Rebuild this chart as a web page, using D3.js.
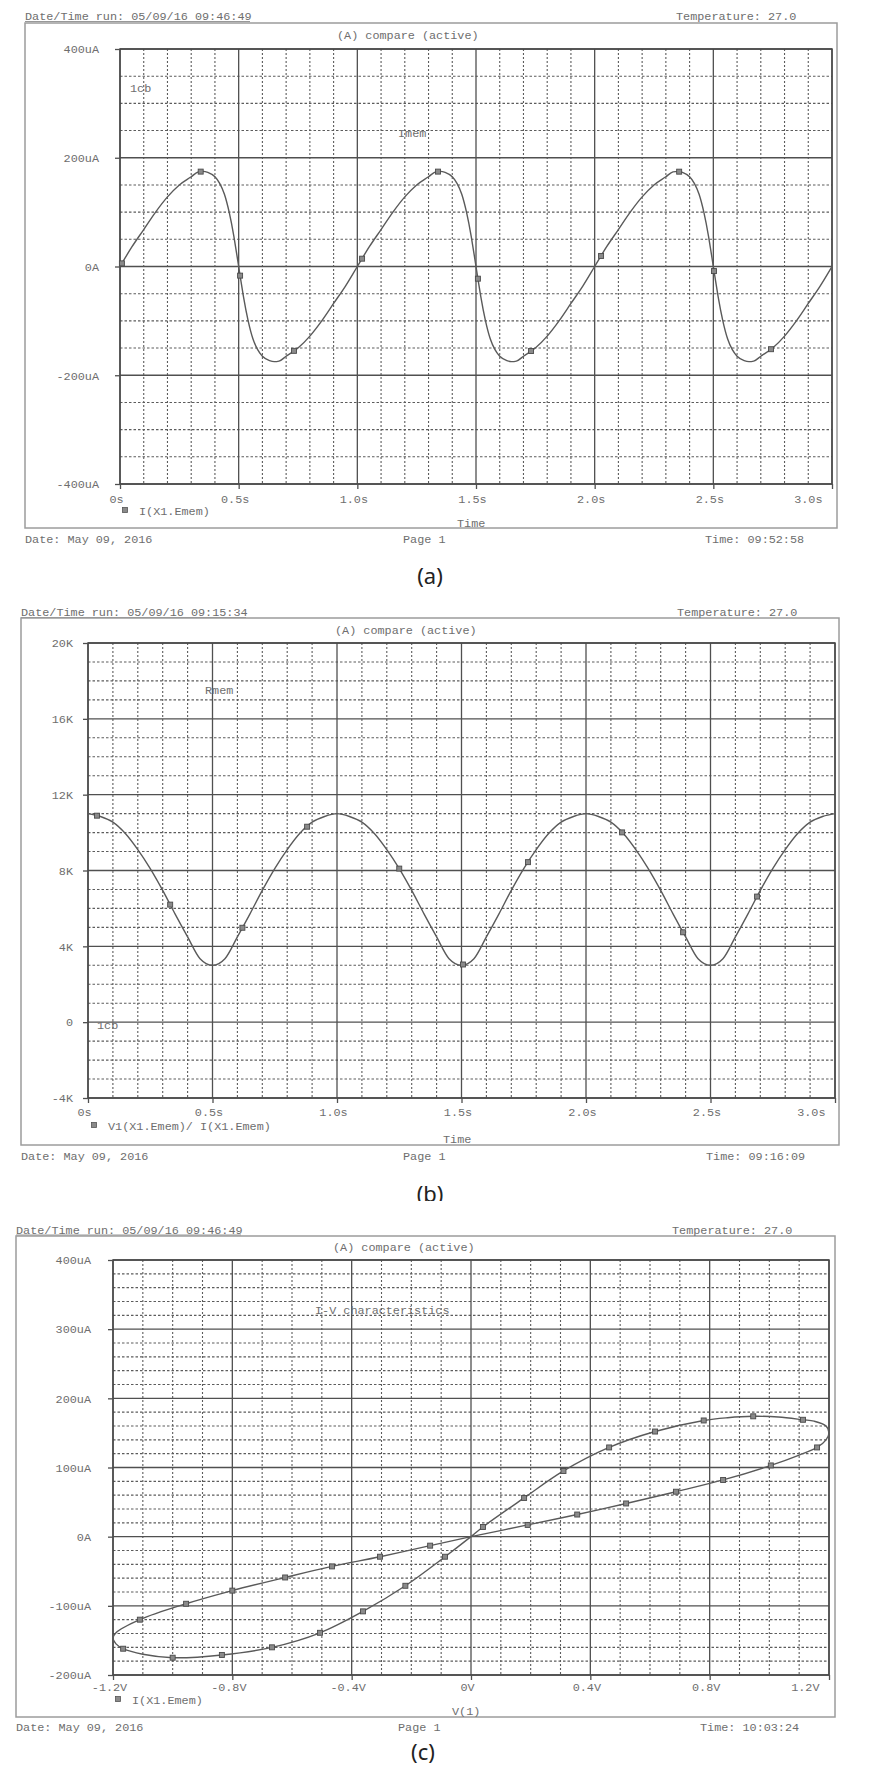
<!DOCTYPE html>
<html><head><meta charset="utf-8">
<script src="https://cdn.jsdelivr.net/npm/d3@7"></script>
<style>body{margin:0;background:#fff}</style>
</head><body>
<svg id="chart" width="869" height="1771" xmlns="http://www.w3.org/2000/svg"></svg>
<script>
// ---------------- DATA ----------------
// Panel (a): memristor current I(X1.Emem) vs time (uA)
const timeA = [
  0,0.05,0.1,0.15,0.2,0.25,0.3,0.33,0.35,0.37,0.4,0.42,0.44,0.46,0.48,0.49,0.5,0.51,0.52,0.54,0.56,0.58,0.6,0.63,0.65,0.67,0.7,0.75,0.8,0.85,0.9,0.95,
  1,1.05,1.1,1.15,1.2,1.25,1.3,1.33,1.35,1.37,1.4,1.42,1.44,1.46,1.48,1.49,1.5,1.51,1.52,1.54,1.56,1.58,1.6,1.63,1.65,1.67,1.7,1.75,1.8,1.85,1.9,1.95,
  2,2.05,2.1,2.15,2.2,2.25,2.3,2.33,2.35,2.37,2.4,2.42,2.44,2.46,2.48,2.49,2.5,2.51,2.52,2.54,2.56,2.58,2.6,2.63,2.65,2.67,2.7,2.75,2.8,2.85,2.9,2.95,
  3
];
const currentA = [
  0,36,68,100,128,150,165,174,175,173,165,153,133,100,55,28,0,-28,-55,-100,-133,-153,-165,-173,-175,-174,-165,-150,-128,-100,-68,-36,
  0,36,68,100,128,150,165,174,175,173,165,153,133,100,55,28,0,-28,-55,-100,-133,-153,-165,-173,-175,-174,-165,-150,-128,-100,-68,-36,
  0,36,68,100,128,150,165,174,175,173,165,153,133,100,55,28,0,-28,-55,-100,-133,-153,-165,-173,-175,-174,-165,-150,-128,-100,-68,-36,
  0
];
const markTimeA = [0.008,0.34,0.506,0.733,1.02,1.34,1.508,1.732,2.027,2.356,2.503,2.743];

// Panel (b): memristance V1/I vs time (K ohm)
const timeB = [
  0,0.05,0.1,0.15,0.2,0.25,0.3,0.35,0.4,0.45,0.5,0.55,0.6,0.65,0.7,0.75,0.8,0.85,0.9,0.95,
  1,1.05,1.1,1.15,1.2,1.25,1.3,1.35,1.4,1.45,1.5,1.55,1.6,1.65,1.7,1.75,1.8,1.85,1.9,1.95,
  2,2.05,2.1,2.15,2.2,2.25,2.3,2.35,2.4,2.45,2.5,2.55,2.6,2.65,2.7,2.75,2.8,2.85,2.9,2.95,
  3
];
const resistB = [
  11.0,10.85,10.55,9.95,9.1,8.1,6.95,5.7,4.5,3.35,3.0,3.35,4.5,5.7,6.95,8.1,9.1,9.95,10.55,10.85,
  11.0,10.85,10.55,9.95,9.1,8.1,6.95,5.7,4.5,3.35,3.0,3.35,4.5,5.7,6.95,8.1,9.1,9.95,10.55,10.85,
  11.0,10.85,10.55,9.95,9.1,8.1,6.95,5.7,4.5,3.35,3.0,3.35,4.5,5.7,6.95,8.1,9.1,9.95,10.55,10.85,
  11.0
];
const markTimeB = [0.036,0.33,0.62,0.88,1.25,1.506,1.767,2.145,2.39,2.687];

// Panel (c): I-V loop (V, uA) in drawing order
const loopV = [0,0.19,0.356,0.52,0.687,0.845,1.005,1.1,1.16,1.19,1.2,1.19,1.15,1.113,1.03,0.946,0.86,0.78,0.617,0.463,0.31,0.178,0.04,0,
  -0.087,-0.22,-0.362,-0.506,-0.667,-0.835,-1.0,-1.1,-1.166,-1.19,-1.2,-1.19,-1.11,-0.955,-0.8,-0.623,-0.466,-0.305,-0.137,0];
const loopI = [0,17,32,48,65,82,103,118,129,140,150,160,167,169,173,174,172,168,152,129,95,56,14,0,
  -29,-71,-108,-139,-160,-171,-175,-170,-162,-155,-147,-139,-120,-97,-78,-59,-43,-29,-13,0];
const markV = [0.04,0.178,0.31,0.463,0.617,0.78,0.946,1.113,1.16,1.005,0.845,0.687,0.52,0.356,0.19,
  -0.137,-0.305,-0.466,-0.623,-0.8,-0.955,-1.11,-1.166,-1.0,-0.835,-0.667,-0.506,-0.362,-0.22,-0.087];
const markI = [14,56,95,129,152,168,174,169,129,103,82,65,48,32,17,
  -13,-29,-43,-59,-78,-97,-120,-162,-175,-171,-160,-139,-108,-71,-29];

// Ticks
const timeTicks = [0,0.5,1.0,1.5,2.0,2.5,3.0];
const timeTickLabels = ["0s","0.5s","1.0s","1.5s","2.0s","2.5s","3.0s"];
const yTicksA = [-400,-200,0,200,400];
const yTickLabelsA = ["-400uA","-200uA","0A","200uA","400uA"];
const yTicksB = [-4,0,4,8,12,16,20];
const yTickLabelsB = ["-4K","0","4K","8K","12K","16K","20K"];
const xTicksC = [-1.2,-0.8,-0.4,0,0.4,0.8,1.2];
const xTickLabelsC = ["-1.2V","-0.8V","-0.4V","0V","0.4V","0.8V","1.2V"];
const yTicksC = [-200,-100,0,100,200,300,400];
const yTickLabelsC = ["-200uA","-100uA","0A","100uA","200uA","300uA","400uA"];

// ---------------- DRAWING ----------------
const svg = d3.select("#chart");
const FONT = "'Liberation Mono','DejaVu Sans Mono',monospace";
const FS = 11.8;
const TXT = "#6e6e6e";
const MAJOR = "#505050";
const MINOR = "#5c5c5c";
const CURVE = "#5a5a5a";

svg.append("rect").attr("width",869).attr("height",1771).attr("fill","#fff");
const defs = svg.append("defs");
defs.append("clipPath").attr("id","clipB").append("rect").attr("x",0).attr("y",0).attr("width",869).attr("height",1201);

function minorVals(lo, hi, step, every) {
  const n = Math.round((hi - lo) / step);
  return d3.range(1, n).filter(i => i % every !== 0).map(i => lo + i * step);
}

function txt(g, s, x, y, opts = {}) {
  return g.append("text").attr("x", x).attr("y", y)
    .attr("font-family", FONT).attr("font-size", opts.size || FS)
    .attr("fill", opts.fill || TXT).attr("text-anchor", opts.anchor || "start")
    .text(s);
}

function drawPanel(p) {
  const x = d3.scaleLinear().domain(p.xDomain).range([p.left, p.right]);
  const y = d3.scaleLinear().domain(p.yDomain).range([p.bottom, p.top]);
  const g = svg.append("g");

  // outer frame
  g.append("rect").attr("x", p.frame[0]).attr("y", p.frame[1])
    .attr("width", p.frame[2] - p.frame[0]).attr("height", p.frame[3] - p.frame[1])
    .attr("fill", "none").attr("stroke", "#9c9c9c").attr("stroke-width", 1.5);

  // minor grid
  g.append("g").selectAll("line").data(minorVals(p.xDomain[0], p.xDomain[1], p.xStep, p.xEvery)).join("line")
    .attr("x1", d => x(d)).attr("x2", d => x(d)).attr("y1", p.top).attr("y2", p.bottom)
    .attr("stroke", MINOR).attr("stroke-width", 1.1).attr("stroke-dasharray", "2,2");
  g.append("g").selectAll("line").data(minorVals(p.yDomain[0], p.yDomain[1], p.yStep, p.yEvery)).join("line")
    .attr("y1", d => y(d)).attr("y2", d => y(d)).attr("x1", p.left).attr("x2", p.right)
    .attr("stroke", MINOR).attr("stroke-width", 1.1).attr("stroke-dasharray", "2.5,2");

  // major grid
  g.append("g").selectAll("line").data(p.xTicks).join("line")
    .attr("x1", d => x(d)).attr("x2", d => x(d)).attr("y1", p.top).attr("y2", p.bottom)
    .attr("stroke", MAJOR).attr("stroke-width", 1.3);
  g.append("g").selectAll("line").data(p.yTicks).join("line")
    .attr("y1", d => y(d)).attr("y2", d => y(d)).attr("x1", p.left).attr("x2", p.right)
    .attr("stroke", MAJOR).attr("stroke-width", 1.3);

  // plot border
  g.append("rect").attr("x", p.left).attr("y", p.top)
    .attr("width", p.right - p.left).attr("height", p.bottom - p.top)
    .attr("fill", "none").attr("stroke", "#484848").attr("stroke-width", 1.5);

  // axes
  const xa = g.append("g").attr("transform", `translate(0,${p.bottom})`)
    .call(d3.axisBottom(x).tickValues(p.xTicks).tickFormat((d, i) => p.xLabels[i]).tickSize(5).tickPadding(p.xPad));
  xa.select(".domain").remove();
  xa.attr("font-family", FONT).attr("font-size", FS);
  xa.selectAll(".tick line").attr("stroke", MAJOR).attr("stroke-width", 1.3);
  xa.selectAll(".tick text").attr("fill", TXT).attr("dx", -4);
  xa.selectAll(".tick").filter((d, i) => i === p.xTicks.length - 1).select("text")
    .attr("text-anchor", "end").attr("dx", -10);

  const ya = g.append("g").attr("transform", `translate(${p.left},0)`)
    .call(d3.axisLeft(y).tickValues(p.yTicks).tickFormat((d, i) => p.yLabels[i]).tickSize(5).tickPadding(p.yPad));
  ya.select(".domain").remove();
  ya.attr("font-family", FONT).attr("font-size", FS);
  ya.selectAll(".tick line").attr("stroke", MAJOR).attr("stroke-width", 1.3);
  ya.selectAll(".tick text").attr("fill", TXT);

  // header / footer texts
  txt(g, p.header, p.frame[0], p.headerY);
  g.append("line").attr("x1", p.frame[0]).attr("x2", p.frame[0] + 225)
    .attr("y1", p.headerY + 1.5).attr("y2", p.headerY + 1.5).attr("stroke", "#999").attr("stroke-width", 1);
  txt(g, "Temperature: 27.0", p.tempX, p.headerY);
  txt(g, "(A) compare (active)", p.titleX, p.titleY);
  txt(g, "Date: May 09, 2016", p.frame[0], p.footY);
  txt(g, "Page 1", p.pageX, p.footY);
  txt(g, p.timeStamp, p.stampX, p.footY);
  txt(g, p.axisTitle, p.axisTitleX, p.axisTitleY);
  // legend
  g.append("rect").attr("x", p.legX - 2.5).attr("y", p.legY - 2.5).attr("width", 5).attr("height", 5)
    .attr("fill", "#8a8a8a").attr("stroke", "#555").attr("stroke-width", 0.8);
  txt(g, p.legend, p.legX + 14, p.legY + 4.5);
  // inner labels
  p.inner.forEach(l => txt(g, l[0], l[1], l[2]));

  return { x, y, g };
}

function marks(g, pts, x, y) {
  g.append("g").selectAll("rect").data(pts).join("rect")
    .attr("x", d => x(d[0]) - 2.5).attr("y", d => y(d[1]) - 2.5)
    .attr("width", 5).attr("height", 5)
    .attr("fill", "#8a8a8a").attr("stroke", "#4a4a4a").attr("stroke-width", 0.9);
}

// ---- Panel (a)
{
  const P = drawPanel({
    frame: [25, 23, 837, 528], left: 120, right: 832, top: 49, bottom: 484,
    xDomain: [0, 3.0], yDomain: [-400, 400], xStep: 0.1, xEvery: 5, yStep: 50, yEvery: 4,
    xTicks: timeTicks, xLabels: timeTickLabels, yTicks: yTicksA, yLabels: yTickLabelsA,
    xPad: 5.5, yPad: 16,
    header: "Date/Time run: 05/09/16 09:46:49", headerY: 20, tempX: 676, titleX: 337, titleY: 39,
    footY: 543, pageX: 403, stampX: 705, timeStamp: "Time: 09:52:58",
    axisTitle: "Time", axisTitleX: 457, axisTitleY: 526.5,
    legX: 125, legY: 510, legend: "I(X1.Emem)",
    inner: [["1cb", 130, 92], ["Imem", 398, 137]]
  });
  const line = d3.line().x(d => P.x(d[0])).y(d => P.y(d[1])).curve(d3.curveMonotoneX);
  P.g.append("path").datum(d3.zip(timeA, currentA)).attr("d", line)
    .attr("fill", "none").attr("stroke", CURVE).attr("stroke-width", 1.4);
  const interp = d3.scaleLinear().domain(timeA).range(currentA);
  marks(P.g, markTimeA.map(t => [t, interp(t)]), P.x, P.y);
  svg.append("text").attr("x", 430).attr("y", 584).attr("text-anchor", "middle")
    .attr("font-family", "'Noto Sans','Open Sans',sans-serif").attr("font-size", 22).attr("fill", "#222").text("(a)");
}

// ---- Panel (b)
{
  const P = drawPanel({
    frame: [21, 618, 839, 1145], left: 88, right: 835, top: 643, bottom: 1098,
    xDomain: [0, 3.0], yDomain: [-4, 20], xStep: 0.1, xEvery: 5, yStep: 1, yEvery: 4,
    xTicks: timeTicks, xLabels: timeTickLabels, yTicks: yTicksB, yLabels: yTickLabelsB,
    xPad: 4.5, yPad: 10,
    header: "Date/Time run: 05/09/16 09:15:34", headerY: 616, tempX: 677, titleX: 335, titleY: 634,
    footY: 1160, pageX: 403, stampX: 706, timeStamp: "Time: 09:16:09",
    axisTitle: "Time", axisTitleX: 443, axisTitleY: 1143,
    legX: 94, legY: 1125, legend: "V1(X1.Emem)/ I(X1.Emem)",
    inner: [["Rmem", 205, 694], ["1cb", 97, 1029]]
  });
  const line = d3.line().x(d => P.x(d[0])).y(d => P.y(d[1])).curve(d3.curveMonotoneX);
  P.g.append("path").datum(d3.zip(timeB, resistB)).attr("d", line)
    .attr("fill", "none").attr("stroke", CURVE).attr("stroke-width", 1.4);
  const interp = d3.scaleLinear().domain(timeB).range(resistB);
  marks(P.g, markTimeB.map(t => [t, interp(t)]), P.x, P.y);
  svg.append("text").attr("x", 430).attr("y", 1202).attr("text-anchor", "middle")
    .attr("clip-path", "url(#clipB)")
    .attr("font-family", "'Noto Sans','Open Sans',sans-serif").attr("font-size", 22).attr("fill", "#222").text("(b)");
}

// ---- Panel (c)
{
  const P = drawPanel({
    frame: [16, 1236, 835, 1717], left: 113, right: 829, top: 1260, bottom: 1675,
    xDomain: [-1.2, 1.2], yDomain: [-200, 400], xStep: 0.1, xEvery: 4, yStep: 20, yEvery: 5,
    xTicks: xTicksC, xLabels: xTickLabelsC, yTicks: yTicksC, yLabels: yTickLabelsC,
    xPad: 2.5, yPad: 17,
    header: "Date/Time run: 05/09/16 09:46:49", headerY: 1233.5, tempX: 672, titleX: 333, titleY: 1251,
    footY: 1731, pageX: 398, stampX: 700, timeStamp: "Time: 10:03:24",
    axisTitle: "V(1)", axisTitleX: 452, axisTitleY: 1715,
    legX: 118, legY: 1699, legend: "I(X1.Emem)",
    inner: [["I-V characteristics", 315, 1314]]
  });
  const line = d3.line().x(d => P.x(d[0])).y(d => P.y(d[1])).curve(d3.curveCatmullRom.alpha(0.5));
  P.g.append("path").datum(d3.zip(loopV, loopI)).attr("d", line)
    .attr("fill", "none").attr("stroke", CURVE).attr("stroke-width", 1.4);
  marks(P.g, d3.zip(markV, markI), P.x, P.y);
  svg.append("text").attr("x", 423).attr("y", 1760).attr("text-anchor", "middle")
    .attr("font-family", "'Noto Sans','Open Sans',sans-serif").attr("font-size", 22).attr("fill", "#222").text("(c)");
}
</script>
</body></html>
